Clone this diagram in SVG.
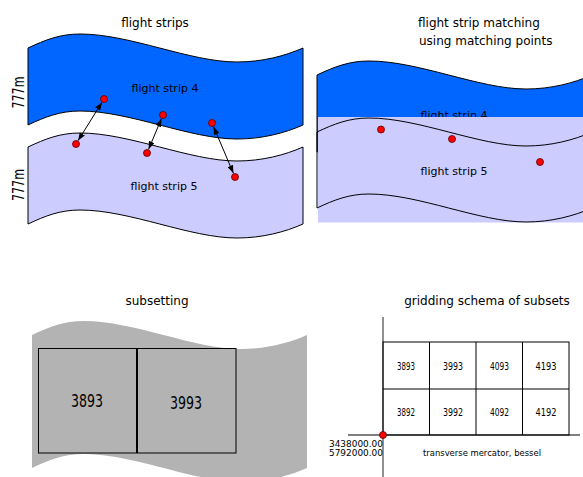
<svg xmlns="http://www.w3.org/2000/svg" width="583" height="477" viewBox="0 0 583 477">
<style>
text{font-family:"DejaVu Sans","Liberation Sans",sans-serif;fill:#000}
.title{font-size:12px}
.lbl{font-size:11px;text-anchor:middle}
.s4{fill:#0066ff;stroke:#000;stroke-width:1}
.s5{fill:#ccccff;stroke:#000;stroke-width:1}
.dot{fill:#ff0000;stroke:#5a0000;stroke-width:0.8}
.arr{stroke:#000;stroke-width:1;fill:none;marker-start:url(#ah);marker-end:url(#ah)}
.box{fill:none;stroke:#000;stroke-width:1}
.cell{font-size:11px;text-anchor:middle}
.small{font-size:9px}
.dim{font-size:15px;text-anchor:middle}
</style>
<defs>
<path id="strip" d="M0,0 C17,-8 32,-14 52,-14 C102,-14 162,14 209,14 C234,14 257,8 275,0 L275,77 C257,85 234,91 209,91 C162,91 102,63 52,63 C32,63 17,69 0,77 Z"/>
<path id="stripO" d="M0,0 C17,-8 32,-14 52,-14 C102,-14 162,14 209,14 C234,14 257,8 275,0 M275,76 C257,84 234,90 209,90 C162,90 102,62 52,62 C32,62 17,68 0,76 L0,0"/>
<marker id="ah" viewBox="0 0 8 6" refX="8" refY="3" markerWidth="8" markerHeight="6" markerUnits="userSpaceOnUse" orient="auto-start-reverse">
<path d="M0,0 L8,3 L0,6 Z" fill="#000"/>
</marker>
</defs>

<!-- Panel 1: flight strips -->
<g id="panel-flight-strips">
<text class="title" x="155" y="27" text-anchor="middle">flight strips</text>
<g id="strip4"><use href="#strip" x="28" y="48" class="s4"/><text class="lbl" x="165" y="92">flight strip 4</text></g>
<g id="strip5"><use href="#strip" x="28" y="147" class="s5"/><text class="lbl" x="164" y="190">flight strip 5</text></g>
<text class="dim" x="0" y="0" textLength="32" lengthAdjust="spacingAndGlyphs" transform="translate(23.5,92.5) rotate(-90)">777m</text>
<text class="dim" x="0" y="0" textLength="32" lengthAdjust="spacingAndGlyphs" transform="translate(23.5,185) rotate(-90)">777m</text>
</g>
<g id="connectors">
<line class="arr" x1="101.9" y1="102.4" x2="78.1" y2="140.6"/>
<line class="arr" x1="161.4" y1="118.7" x2="148.6" y2="149.3"/>
<line class="arr" x1="213.6" y1="126.7" x2="233.4" y2="173.3"/>
</g>
<g id="points1">
<circle class="dot" cx="104" cy="99" r="3.5"/>
<circle class="dot" cx="163" cy="115" r="3.5"/>
<circle class="dot" cx="212" cy="123" r="3.5"/>
<circle class="dot" cx="76" cy="144" r="3.5"/>
<circle class="dot" cx="147" cy="153" r="3.5"/>
<circle class="dot" cx="235" cy="177" r="3.5"/>
</g>

<!-- Panel 2: matching -->
<g id="panel-matching">
<text class="title" x="418" y="27">flight strip matching</text>
<text class="title" x="419" y="45">using matching points</text>
<use href="#strip" x="317" y="75" class="s4"/>
<text class="lbl" x="454" y="118.5">flight strip 4</text>
<rect x="318" y="117" width="265" height="105.5" fill="#ccccff"/>
<use href="#stripO" x="317" y="132" fill="none" stroke="#000" stroke-width="1"/>
<text class="lbl" x="454" y="175">flight strip 5</text>
<circle class="dot" cx="381" cy="129.5" r="3.5"/>
<circle class="dot" cx="452" cy="139" r="3.5"/>
<circle class="dot" cx="540" cy="162" r="3.5"/>
</g>

<!-- Panel 3: subsetting -->
<g id="panel-subsetting">
<text class="title" x="157" y="305" text-anchor="middle">subsetting</text>
<path d="M32,335 C49,327 64,321 84,321 C134,321 194,349 241,349 C266,349 289,343 307,335 L307,468 C289,476 266,482 241,482 C194,482 134,454 84,454 C64,454 49,460 32,468 Z" fill="#b3b3b3"/>
<g id="subset-3893"><rect class="box" x="38.5" y="348.5" width="98" height="104.5"/><text x="87" y="407" font-size="17.5" text-anchor="middle" textLength="32" lengthAdjust="spacingAndGlyphs">3893</text></g>
<g id="subset-3993"><rect class="box" x="137.5" y="348.5" width="98.5" height="104.5"/><text x="186" y="409" font-size="17.5" text-anchor="middle" textLength="32" lengthAdjust="spacingAndGlyphs">3993</text></g>
</g>

<!-- Panel 4: gridding -->
<g id="panel-gridding">
<text class="title" x="487" y="305" text-anchor="middle">gridding schema of subsets</text>
<line x1="383" y1="317" x2="383" y2="477" stroke="#555" stroke-width="1.3"/>
<line x1="348" y1="435" x2="580" y2="435" stroke="#000" stroke-width="1"/>
<g class="box">
<rect class="box" x="383" y="342" width="186" height="93"/>
<line x1="383" y1="389" x2="569" y2="389"/>
<line x1="429.5" y1="342" x2="429.5" y2="435"/>
<line x1="476" y1="342" x2="476" y2="435"/>
<line x1="522.5" y1="342" x2="522.5" y2="435"/>
</g>
<g id="cells">
<text class="cell" x="406" y="370" textLength="18" lengthAdjust="spacingAndGlyphs">3893</text>
<text class="cell" x="453" y="370" textLength="20" lengthAdjust="spacingAndGlyphs">3993</text>
<text class="cell" x="499.5" y="370" textLength="19" lengthAdjust="spacingAndGlyphs">4093</text>
<text class="cell" x="546" y="370" textLength="21" lengthAdjust="spacingAndGlyphs">4193</text>
<text class="cell" x="406" y="416" textLength="18" lengthAdjust="spacingAndGlyphs">3892</text>
<text class="cell" x="453" y="416" textLength="20" lengthAdjust="spacingAndGlyphs">3992</text>
<text class="cell" x="499.5" y="416" textLength="19" lengthAdjust="spacingAndGlyphs">4092</text>
<text class="cell" x="546" y="416" textLength="21" lengthAdjust="spacingAndGlyphs">4192</text>
</g>
<circle class="dot" cx="383" cy="435" r="3.5"/>
<text class="small" x="329" y="447" textLength="54" lengthAdjust="spacingAndGlyphs">3438000.00</text>
<text class="small" x="329" y="456" textLength="54" lengthAdjust="spacingAndGlyphs">5792000.00</text>
<text class="small" x="423" y="456" textLength="118" lengthAdjust="spacingAndGlyphs">transverse mercator, bessel</text>
</g>
</svg>
